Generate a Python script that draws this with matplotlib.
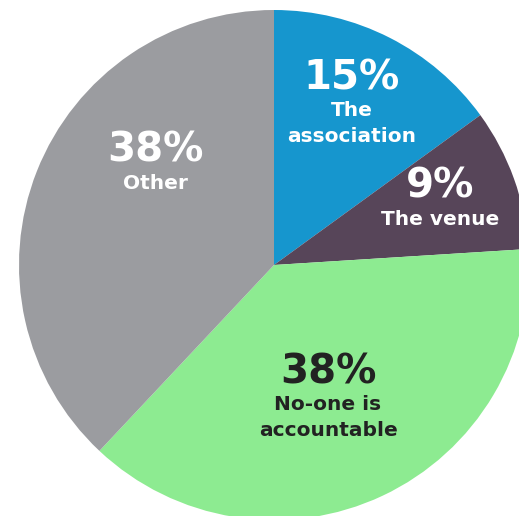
import matplotlib.pyplot as plt

labels = ['The\nassociation', 'The venue', 'No-one is\naccountable', 'Other']
shares = [15, 9, 38, 38]
colors = ['#1696ce', '#574559', '#8deb91', '#9b9ca0']
text_colors = ['white', 'white', '#222222', 'white']

# label centres in pixels (x, y of the percentage line, from the top-left)
label_px = [(352, 78), (440, 187), (328, 372), (155, 151)]

W, H = 519, 516
cx, cy, r = 274, 265, 255

fig = plt.figure(figsize=(W / 100, H / 100), dpi=100)
ax = fig.add_axes([0, 0, 1, 1])
ax.pie(shares, colors=colors, startangle=90, counterclock=False,
       radius=1, wedgeprops=dict(linewidth=0))
ax.set_xlim(-cx / r, (W - cx) / r)
ax.set_ylim(-(H - cy) / r, cy / r)
ax.set_aspect('auto')
ax.axis('off')

for lab, val, col, (px, py) in zip(labels, shares, text_colors, label_px):
    x = (px - cx) / r
    y = (cy - py) / r
    ax.text(x, y, '%d%%' % val, ha='center', va='center', color=col,
            fontsize=29, fontweight='bold', family='DejaVu Sans')
    ax.text(x, y - 23 / r, lab, ha='center', va='top', color=col,
            fontsize=14.5, fontweight='bold', family='DejaVu Sans',
            linespacing=1.5)

fig.savefig('out.png', dpi=100)
